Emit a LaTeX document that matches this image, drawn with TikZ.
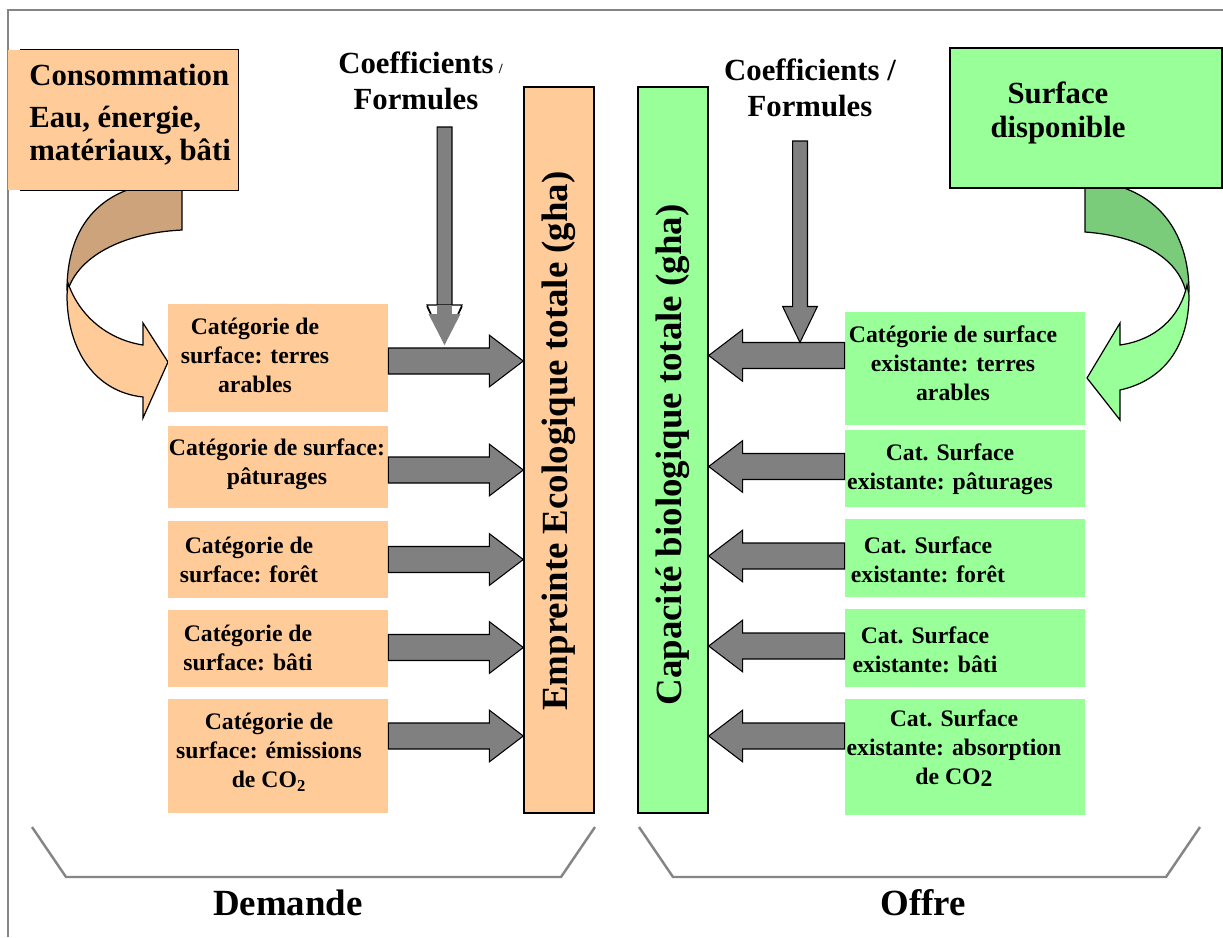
\documentclass[tikz,border=0pt]{standalone}
\usepackage{fontspec}
\setmainfont{Liberation Serif}
\usetikzlibrary{calc}
\definecolor{orangefill}{HTML}{FFCC99}
\definecolor{orangedark}{HTML}{CCA37A}
\definecolor{greenfill}{HTML}{99FF99}
\definecolor{greendark}{HTML}{7ACC7A}
\definecolor{arrowgray}{HTML}{808080}
\definecolor{framegray}{HTML}{858585}
\tikzset{
  lbox/.style={fill=orangefill, minimum width=4.4cm, inner sep=0pt},
  rbox/.style={fill=greenfill, minimum width=4.8cm, inner sep=0pt},
  boxtxt/.style={font=\fontsize{13.5}{16.5}\selectfont\bfseries, align=center, inner sep=0pt},
  bigtxt/.style={font=\fontsize{17.5}{20.8}\selectfont\bfseries, align=center, inner sep=0pt},
  bartxt/.style={font=\fontsize{21}{24}\selectfont\bfseries, rotate=90, inner sep=0pt},
  sidetxt/.style={font=\fontsize{21}{24}\selectfont\bfseries, inner sep=0pt},
  tallbar/.style={draw=black, line width=0.8pt, minimum width=1.4cm, minimum height=14.52cm, inner sep=0pt},
  blk/.style={fill=arrowgray, draw=black, line width=0.6pt, line join=miter},
  curvearr/.style={draw=black, line width=0.7pt},
  bracket/.style={draw=framegray, line width=1.4pt},
  frameline/.style={draw=framegray, line width=1pt}
}
% block arrow, horizontal: start point, target (only its x is used)
\newcommand{\harrow}[2]{%
  \draw[blk] let \p1=(#1), \p2=(#2), \n1={ifthenelse(\x2>\x1,1,-1)} in
    (\x1,\y1+7.4pt) -- (\x2-19.3pt*\n1,\y1+7.4pt) -- (\x2-19.3pt*\n1,\y1+14.7pt) -- (\x2,\y1)
    -- (\x2-19.3pt*\n1,\y1-14.7pt) -- (\x2-19.3pt*\n1,\y1-7.4pt) -- (\x1,\y1-7.4pt) -- cycle;}
% block arrow, vertical: start point, target (only its y is used)
\newcommand{\varrow}[2]{%
  \draw[blk] let \p1=(#1), \p2=(#2), \n1={ifthenelse(\y2>\y1,1,-1)} in
    (\x1-4.25pt,\y1) -- (\x1-4.25pt,\y2-20.5pt*\n1) -- (\x1-9.9pt,\y2-20.5pt*\n1) -- (\x1,\y2)
    -- (\x1+9.9pt,\y2-20.5pt*\n1) -- (\x1+4.25pt,\y2-20.5pt*\n1) -- (\x1+4.25pt,\y1) -- cycle;}

\begin{document}
\begin{tikzpicture}[x=0.02cm, y=-0.02cm]
  \useasboundingbox (0,0) rectangle (1223,937);
  \draw[frameline] (8,937) -- (8,10) -- (1223,10);

  % curved arrows (back part, then front part)
  \draw[curvearr, fill=orangedark] (182,186) -- (182,230) .. controls (120,233) and (78,258) .. (68,290)
    -- (67,290) .. controls (67,235) and (92,198) .. (140,186) -- cycle;
  \draw[curvearr, fill=orangefill] (68,283) .. controls (80,318) and (110,340) .. (143,345) -- (143,323)
    -- (168,362) -- (143,418) -- (143,397) .. controls (95,392) and (67,350) .. (67,295) -- cycle;
  \draw[curvearr, fill=greendark] (1085,186) -- (1085,232) .. controls (1140,236) and (1178,258) .. (1186,292)
    -- (1189,292) .. controls (1189,240) and (1165,200) .. (1118,186) -- cycle;
  \draw[curvearr, fill=greenfill] (1187,285) .. controls (1180,318) and (1155,340) .. (1120,345) -- (1120,323)
    -- (1087,378) -- (1120,420) -- (1120,390) .. controls (1165,380) and (1189,345) .. (1189,295) -- cycle;

  % top boxes
  \node[fill=orangefill, minimum width=4.6cm, minimum height=2.8cm, inner sep=0pt] (cons) at (123,120) {};
  \draw[line width=0.8pt] ($(cons.north west)+(12,0)$) -- (cons.north east) -- (cons.south east) -- ($(cons.south west)+(12,0)$);
  \node[bigtxt, align=left, anchor=north west, font=\fontsize{17.5}{18.7}\selectfont\bfseries] (constxt) at (29,64)
    {Consommation\\[5pt]Eau, énergie,\\matériaux, bâti};
  \node[draw=black, line width=0.8pt, fill=greenfill, minimum width=5.44cm, minimum height=2.8cm, inner sep=0pt] (surf) at (1086,118) {};
  \node[bigtxt, anchor=north, font=\fontsize{17.5}{19.8}\selectfont\bfseries] (surftxt) at (1058,81) {Surface\\disponible};

  \node[bigtxt, anchor=north] (coefL) at (416,51) {Coefficients\rlap{\,\fontsize{8}{8}\selectfont/}\\Formules};
  \node[bigtxt, anchor=north] (coefR) at (810,58) {Coefficients /\\Formules};

  % bars
  \node[tallbar, fill=orangefill] (eb) at (559,450) {};
  \node[bartxt] (ebtxt) at (559,441) {Empreinte Ecologique totale (gha)};
  \node[tallbar, fill=greenfill] (cb) at (673,450) {};
  \node[bartxt] (cbtxt) at (673,455) {Capacité biologique totale (gha)};

  % demand side
  \node[lbox, minimum height=2.16cm] (l1) at (278,358) {};
  \node[lbox, minimum height=1.64cm] (l2) at (278,467) {};
  \node[lbox, minimum height=1.54cm] (l3) at (278,559.5) {};
  \node[lbox, minimum height=1.54cm] (l4) at (278,648.5) {};
  \node[lbox, minimum height=2.28cm] (l5) at (278,756) {};
  \node[boxtxt] (l1t) at (255,355) {Catégorie de\\surface: terres\\arables};
  \node[boxtxt] (l2t) at (277,464) {Catégorie de surface:\\pâturages};
  \node[boxtxt] (l3t) at (249,560) {Catégorie de\\surface: forêt};
  \node[boxtxt] (l4t) at (248,648) {Catégorie de\\surface: bâti};
  \node[boxtxt] (l5t) at (269,752) {Catégorie de\\surface: émissions\\de CO\textsubscript{2}};

  % supply side
  \node[rbox, minimum height=2.26cm] (r1) at (965,368.5) {};
  \node[rbox, minimum height=1.54cm] (r2) at (965,468.5) {};
  \node[rbox, minimum height=1.56cm] (r3) at (965,558) {};
  \node[rbox, minimum height=1.56cm] (r4) at (965,648) {};
  \node[rbox, minimum height=2.32cm] (r5) at (965,757) {};
  \node[boxtxt] (r1t) at (953,363) {Catégorie de surface\\existante: terres\\arables};
  \node[boxtxt] (r2t) at (950,469) {Cat. Surface\\existante: pâturages};
  \node[boxtxt] (r3t) at (928,560) {Cat. Surface\\existante: forêt};
  \node[boxtxt] (r4t) at (925,650) {Cat. Surface\\existante: bâti};
  \node[boxtxt] (r5t) at (954,748) {Cat. Surface\\existante: absorption\\de CO\raisebox{-1pt}{2}};

  % block arrows
  \foreach \i/\dy in {1/3,2/3,3/0,4/-1,5/-20}
    \harrow{$(l\i.east)+(0,\dy)$}{eb.west};
  \foreach \i/\dy in {1/-13,2/-2,3/-2,4/-2,5/-21}
    \harrow{$(r\i.west)+(0,\dy)$}{cb.east};

  \coordinate (vL) at (444.5,127);
  \coordinate (vR) at (800,141);
  \varrow{vL}{$(vL |- l1.east)+(0,-15)$};
  \varrow{vR}{$(vR |- r1.west)+(0,-26)$};
  \begin{scope}[shift={($(vL |- l1.east)+(0,-15)$)}]
    \draw[fill=white, line width=0.6pt] (-17.5,-38) -- (17.5,-38) -- (0,0) -- cycle;
    \fill[arrowgray] (-7.5,-38.5) rectangle (7.5,-29);
    \fill[arrowgray] (-16,-29) -- (16,-29) -- (0,2) -- cycle;
  \end{scope}

  % brackets
  \draw[bracket] (32,827) -- (66,877) -- (561,877) -- (595,827);
  \draw[bracket] (639,827) -- (673,877) -- (1166,877) -- (1200,827);
  \node[sidetxt, anchor=base] (dem) at (288,915) {Demande};
  \node[sidetxt, anchor=base] (off) at (923,915) {Offre};
\end{tikzpicture}
\end{document}
